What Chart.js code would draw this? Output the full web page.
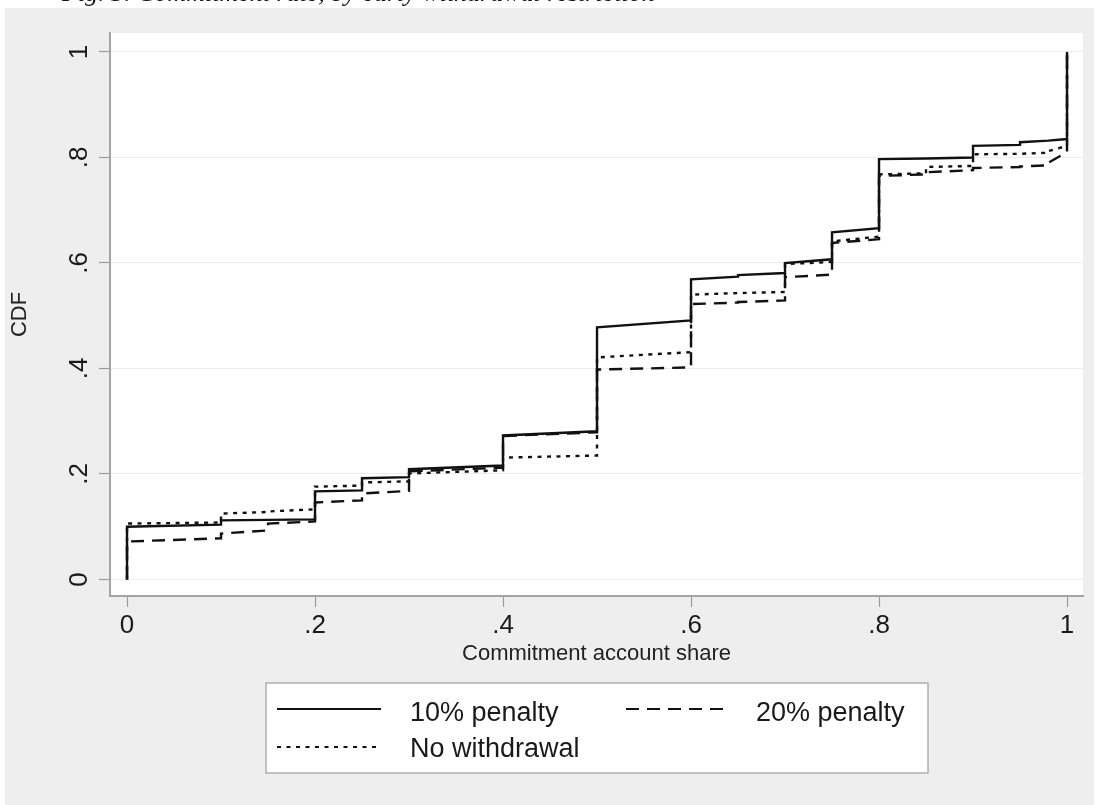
<!DOCTYPE html>
<html>
<head>
<meta charset="utf-8">
<script src="https://cdn.jsdelivr.net/npm/chart.js@4.4.1/dist/chart.umd.min.js"></script>
<style>
  html, body { margin: 0; padding: 0; background: #fff; overflow: hidden; }
  canvas { display: block; }
</style>
</head>
<body>
<canvas id="cdf" width="1099" height="805"></canvas>
<script>
// Commitment account share at which each step of the empirical CDF begins
const shareBreaks = [0, 0.1, 0.15, 0.2, 0.25, 0.3, 0.4, 0.5, 0.6, 0.65, 0.7, 0.75, 0.8, 0.85, 0.9, 0.95, 0.98, 1];

// CDF level at the start and at the end of each step (one entry per interval)
const penalty10From = [0.100, 0.112, 0.113, 0.167, 0.192, 0.209, 0.273, 0.478, 0.569, 0.577, 0.600, 0.658, 0.797, 0.798, 0.822, 0.829, 0.832];
const penalty10To   = [0.104, 0.113, 0.114, 0.169, 0.194, 0.216, 0.281, 0.491, 0.574, 0.581, 0.607, 0.666, 0.798, 0.800, 0.824, 0.832, 0.835];

const penalty20From = [0.072, 0.087, 0.106, 0.146, 0.163, 0.205, 0.272, 0.398, 0.522, 0.526, 0.573, 0.638, 0.765, 0.772, 0.780, 0.783, 0.790];
const penalty20To   = [0.078, 0.093, 0.110, 0.150, 0.168, 0.212, 0.279, 0.402, 0.525, 0.529, 0.578, 0.645, 0.768, 0.776, 0.782, 0.785, 0.810];

const noWithdrawalFrom = [0.106, 0.125, 0.129, 0.176, 0.184, 0.201, 0.231, 0.421, 0.540, 0.543, 0.598, 0.641, 0.768, 0.782, 0.806, 0.807, 0.812];
const noWithdrawalTo   = [0.108, 0.128, 0.133, 0.178, 0.186, 0.207, 0.235, 0.431, 0.543, 0.545, 0.602, 0.650, 0.770, 0.784, 0.807, 0.809, 0.822];

const tickValues = [0, 0.2, 0.4, 0.6, 0.8, 1];
const tickLabels = ['0', '.2', '.4', '.6', '.8', '1'];
const seriesNames = ['10% penalty', '20% penalty', 'No withdrawal'];
const xTitle = 'Commitment account share';
const yTitle = 'CDF';
const caption = 'Fig. 3. Commitment rate, by early withdrawal restriction';

// Turn per-interval start/end levels into the vertices of a step line
function stepPoints(from, to) {
  const pts = [{ x: shareBreaks[0], y: 0 }];
  for (let i = 0; i < from.length; i++) {
    pts.push({ x: shareBreaks[i], y: from[i] });
    pts.push({ x: shareBreaks[i + 1], y: to[i] });
  }
  pts.push({ x: shareBreaks[shareBreaks.length - 1], y: 1 });
  return pts;
}

const dashes = [[], [13, 8], [4, 5.5]];
const SANS = '"Liberation Sans", Arial, Helvetica, sans-serif';

function labelFor(v) {
  const i = tickValues.findIndex(t => Math.abs(t - v) < 1e-9);
  return i >= 0 ? tickLabels[i] : '';
}

const decor = {
  id: 'decor',
  beforeDraw(chart) {
    const { ctx, chartArea: a } = chart;
    ctx.save();
    ctx.fillStyle = '#ffffff';
    ctx.fillRect(0, 0, chart.width, chart.height);
    ctx.fillStyle = '#eeeeee';
    ctx.fillRect(5, 8, chart.width - 10, chart.height - 8);
    ctx.fillStyle = '#ffffff';
    ctx.fillRect(a.left, a.top, a.right - a.left, a.bottom - a.top);
    // caption line running off the top edge
    ctx.fillStyle = '#111';
    ctx.font = 'italic 26px "Liberation Serif", "Times New Roman", serif';
    ctx.textBaseline = 'alphabetic';
    ctx.textAlign = 'left';
    ctx.fillText(caption, 62, 1);
    ctx.restore();
  },
  afterDraw(chart) {
    const { ctx, chartArea: a } = chart;
    const ys = chart.scales.y;
    ctx.save();
    // vertical-axis tick labels, rotated
    ctx.fillStyle = '#1a1a1a';
    ctx.font = '26px ' + SANS;
    ctx.textAlign = 'center';
    ctx.textBaseline = 'alphabetic';
    tickValues.forEach((v, i) => {
      ctx.save();
      ctx.translate(87, ys.getPixelForValue(v));
      ctx.rotate(-Math.PI / 2);
      ctx.fillText(tickLabels[i], 0, 0);
      ctx.restore();
    });
    // vertical-axis title
    ctx.font = '22px ' + SANS;
    ctx.fillStyle = '#222';
    ctx.save();
    ctx.translate(26, (a.top + a.bottom) / 2);
    ctx.rotate(-Math.PI / 2);
    ctx.fillText(yTitle, 0, 0);
    ctx.restore();

    // legend box
    const box = { x: 266, y: 683, w: 662, h: 90 };
    ctx.fillStyle = '#ffffff';
    ctx.fillRect(box.x, box.y, box.w, box.h);
    ctx.strokeStyle = '#b0b0b0';
    ctx.lineWidth = 1.5;
    ctx.strokeRect(box.x, box.y, box.w, box.h);
    const entries = [
      { lx: 277, tx: 410, y: 709, base: 721 },
      { lx: 626, tx: 756, y: 709, base: 721 },
      { lx: 277, tx: 410, y: 747, base: 757 }
    ];
    ctx.font = '27px ' + SANS;
    ctx.textAlign = 'left';
    entries.forEach((e, i) => {
      const ds = chart.data.datasets[i];
      ctx.beginPath();
      ctx.setLineDash(ds.borderDash || []);
      ctx.strokeStyle = ds.borderColor;
      ctx.lineWidth = 2;
      ctx.moveTo(e.lx, e.y);
      ctx.lineTo(e.lx + 104, e.y);
      ctx.stroke();
      ctx.setLineDash([]);
      ctx.fillStyle = '#1a1a1a';
      ctx.fillText(ds.label, e.tx, e.base);
    });
    ctx.restore();
  }
};

const pointSets = [
  stepPoints(penalty10From, penalty10To),
  stepPoints(penalty20From, penalty20To),
  stepPoints(noWithdrawalFrom, noWithdrawalTo)
];

new Chart(document.getElementById('cdf'), {
  type: 'line',
  data: {
    datasets: seriesNames.map((name, i) => ({
      label: name,
      data: pointSets[i],
      borderColor: '#111111',
      borderWidth: 2.4,
      borderDash: dashes[i],
      pointRadius: 0,
      fill: false,
      tension: 0
    }))
  },
  options: {
    responsive: false,
    animation: false,
    events: [],
    layout: { padding: { left: 0, top: 33, right: 16, bottom: 133 } },
    plugins: { legend: { display: false }, tooltip: { enabled: false } },
    scales: {
      x: {
        type: 'linear',
        min: -0.0181,
        max: 1.017,
        afterBuildTicks: s => { s.ticks = tickValues.map(v => ({ value: v })); },
        afterFit: s => { s.height = 76; },
        grid: { drawOnChartArea: false, drawTicks: true, tickLength: 11, tickColor: '#9a9a9a', tickWidth: 1.2 },
        border: { display: true, color: '#a4a4a4', width: 2 },
        ticks: {
          padding: 3,
          color: '#1a1a1a',
          font: { family: SANS, size: 26 },
          maxRotation: 0,
          autoSkip: false,
          callback: v => labelFor(v)
        },
        title: {
          display: true,
          text: xTitle,
          color: '#222',
          font: { family: SANS, size: 22 },
          padding: { top: 0, bottom: 5 }
        }
      },
      y: {
        type: 'linear',
        min: -0.0313,
        max: 1.036,
        afterBuildTicks: s => { s.ticks = tickValues.map(v => ({ value: v })); },
        afterFit: s => { s.width = 110; },
        grid: { drawOnChartArea: true, color: '#ececec', lineWidth: 1, drawTicks: true, tickLength: 11, tickColor: '#9a9a9a', tickWidth: 1.2 },
        border: { display: true, color: '#a4a4a4', width: 2 },
        ticks: { display: false }
      }
    }
  },
  plugins: [decor]
});
</script>
</body>
</html>
